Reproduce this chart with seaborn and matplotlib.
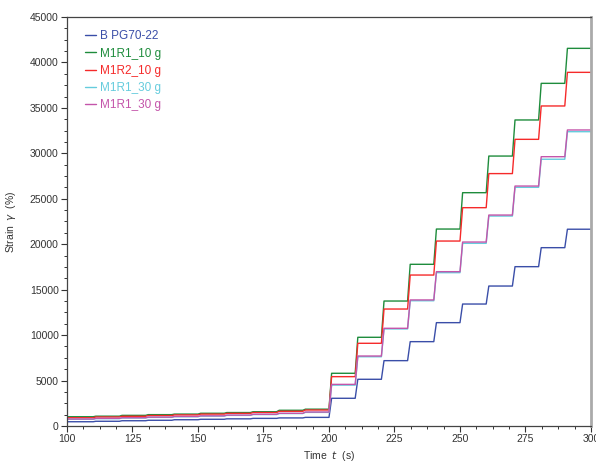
import numpy as np
import pandas as pd
import matplotlib
matplotlib.use("Agg")
import matplotlib.pyplot as plt
from matplotlib.ticker import MultipleLocator
import seaborn as sns

# Plateau strain (%) for each 10 s cycle starting at t = 100, 110, ..., 290
cycle_start = [100, 110, 120, 130, 140, 150, 160, 170, 180, 190,
               200, 210, 220, 230, 240, 250, 260, 270, 280, 290]
labels = ["B PG70-22", "M1R1_10 g", "M1R2_10 g", "M1R1_30 g", "M1R1_30 g"]
colors = ["#3a4ea8", "#1e8c3c", "#f52a2a", "#66ccdd", "#c455aa"]

b_pg70 = [470, 520, 580, 630, 690, 740, 790, 840, 890, 950,
          3050, 5140, 7190, 9280, 11370, 13420, 15400, 17530, 19620, 21650]
m1r1_10 = [1020, 1080, 1170, 1250, 1310, 1400, 1480, 1570, 1730, 1850,
           5800, 9760, 13750, 17790, 21670, 25670, 29700, 33670, 37700, 41550]
m1r2_10 = [910, 990, 1070, 1150, 1220, 1310, 1390, 1480, 1620, 1760,
           5430, 9100, 12870, 16610, 20350, 24020, 27770, 31540, 35210, 38910]
m1r1_30a = [740, 810, 880, 950, 1020, 1090, 1170, 1260, 1370, 1500,
            4500, 7620, 10680, 13780, 16870, 20100, 23100, 26260, 29350, 32380]
m1r1_30b = [770, 840, 910, 980, 1050, 1120, 1200, 1290, 1400, 1540,
            4580, 7700, 10750, 13870, 16980, 20240, 23210, 26400, 29630, 32570]
series = [b_pg70, m1r1_10, m1r2_10, m1r1_30a, m1r1_30b]

creep_time = 1.0
cycle_len = 10.0

def step_frame(plateaus):
    ts, vs = [cycle_start[0]], [plateaus[0]]
    for k in range(1, len(cycle_start)):
        t0 = cycle_start[k]
        ts += [t0, t0 + creep_time]
        vs += [plateaus[k - 1], plateaus[k]]
    ts.append(cycle_start[-1] + cycle_len)
    vs.append(plateaus[-1])
    return pd.DataFrame({"t": ts, "strain": vs})

sns.set_style("white")
plt.rcParams["font.family"] = ["Liberation Sans", "DejaVu Sans"]

fig = plt.figure(figsize=(5.96, 4.63), dpi=100)
ax = fig.add_axes([0.1124, 0.0799, 0.8792, 0.8834])

for vals, lab, col in zip(series, labels, colors):
    df = step_frame(vals)
    sns.lineplot(data=df, x="t", y="strain", color=col, label=lab,
                 linewidth=1.0, estimator=None, sort=False, ax=ax)

ax.set_xlim(100, 300)
ax.set_ylim(0, 45000)
ax.xaxis.set_major_locator(MultipleLocator(25))
ax.xaxis.set_minor_locator(MultipleLocator(6.25))
ax.yaxis.set_major_locator(MultipleLocator(5000))
ax.yaxis.set_minor_locator(MultipleLocator(1250))
ax.tick_params(which="major", direction="out", length=4, width=0.8,
               color="#333333", labelsize=7.5, labelcolor="#333333", pad=2)
ax.tick_params(which="minor", direction="out", length=2, width=0.7, color="#333333")
ax.tick_params(top=False, right=False, bottom=True, left=True, which="both")

for side in ["left", "bottom", "top"]:
    ax.spines[side].set_color("#444444")
    ax.spines[side].set_linewidth(0.9)
    ax.spines[side].set_visible(True)
ax.spines["right"].set_color("#aaaaaa")
ax.spines["right"].set_linewidth(2.0)
ax.spines["right"].set_visible(True)

ax.set_xlabel("Time  $t$  (s)", fontsize=7.5, color="#333333")
ax.set_ylabel("Strain  $\\gamma$  (%)", fontsize=7.5, color="#333333")
ax.xaxis.set_label_coords(0.5, -0.057)
ax.yaxis.set_label_coords(-0.094, 0.5)

leg = ax.legend(loc="upper left", bbox_to_anchor=(0.02, 0.985), frameon=False,
                handlelength=1.0, handletextpad=0.3, labelspacing=0.45,
                fontsize=8.5, labelcolor="linecolor", borderaxespad=0.2)

fig.savefig("out.png", dpi=100)
